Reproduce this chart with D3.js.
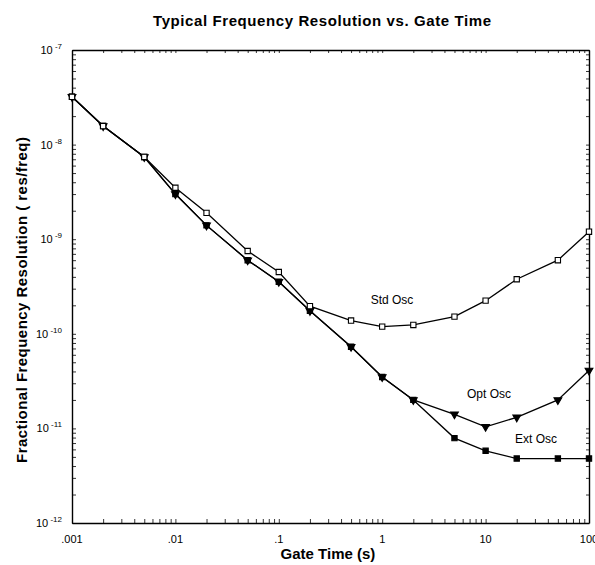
<!DOCTYPE html>
<html>
<head>
<meta charset="utf-8">
<script src="https://cdn.jsdelivr.net/npm/d3@7"></script>
<style>
  body { margin: 0; background: #fff; }
  svg { font-family: "Liberation Sans", Arial, sans-serif; }
  .frame path.domain { stroke: #000; stroke-width: 1.4; }
  .frame .tick line { stroke: #000; stroke-width: 0.8; }
</style>
</head>
<body>
<div id="chart"></div>
<script>
const width = 595, height = 565;
const margin = { top: 50, right: 6, bottom: 42, left: 72 };

// gate times (s)
const gateTimes = [0.001, 0.002, 0.005, 0.01, 0.02, 0.05, 0.1, 0.2, 0.5, 1, 2, 5, 10, 20, 50, 100];
// fractional resolution per oscillator
const stdOsc = [3.2e-8, 1.57e-8, 7.4e-9, 3.5e-9, 1.9e-9, 7.5e-10, 4.5e-10, 1.96e-10, 1.38e-10, 1.19e-10, 1.24e-10, 1.52e-10, 2.24e-10, 3.77e-10, 6.0e-10, 1.2e-9];
const optOsc = [3.2e-8, 1.57e-8, 7.4e-9, 3.0e-9, 1.4e-9, 6.0e-10, 3.55e-10, 1.75e-10, 7.3e-11, 3.5e-11, 2.0e-11, 1.41e-11, 1.04e-11, 1.31e-11, 2.0e-11, 4.1e-11];
const extOsc = [3.2e-8, 1.57e-8, 7.4e-9, 3.0e-9, 1.4e-9, 6.0e-10, 3.55e-10, 1.75e-10, 7.3e-11, 3.5e-11, 2.0e-11, 7.9e-12, 5.8e-12, 4.8e-12, 4.8e-12, 4.8e-12];

const xTickValues = [0.001, 0.01, 0.1, 1, 10, 100];
const xTickLabels = [".001", ".01", ".1", "1", "10", "100"];
const yTickValues = [1e-12, 1e-11, 1e-10, 1e-9, 1e-8, 1e-7];
const yTickExps = ["-12", "-11", "-10", "-9", "-8", "-7"];

const svg = d3.select("#chart").append("svg")
    .attr("width", width)
    .attr("height", height);

const x = d3.scaleLog()
    .domain([0.001, 100])
    .range([margin.left, width - margin.right]);
const y = d3.scaleLog()
    .domain([1e-12, 1e-7])
    .range([height - margin.bottom, margin.top]);

const x0 = x.range()[0], x1 = x.range()[1];
const y0 = y.range()[0], y1 = y.range()[1];

// minor ticks (1..9 in every decade)
const minorX = [];
for (let e = -3; e < 2; e++) for (let m = 1; m < 10; m++) minorX.push(m * Math.pow(10, e));
minorX.push(100);
const minorY = [];
for (let e = -12; e < -7; e++) for (let m = 1; m < 10; m++) minorY.push(m * Math.pow(10, e));
minorY.push(1e-7);

function frameAxis(axis, tx, ty) {
    svg.append("g")
        .attr("class", "frame")
        .attr("transform", "translate(" + tx + "," + ty + ")")
        .call(axis)
        .call(g => g.selectAll("text").remove());
}
frameAxis(d3.axisBottom(x).tickValues(minorX).tickSize(-4).tickSizeOuter(0), 0, y0);
frameAxis(d3.axisTop(x).tickValues(minorX).tickSize(-3).tickSizeOuter(0), 0, y1);
frameAxis(d3.axisLeft(y).tickValues(minorY).tickSize(-4).tickSizeOuter(0), x0, 0);
frameAxis(d3.axisRight(y).tickValues(minorY).tickSize(-3).tickSizeOuter(0), x1, 0);

// major tick labels
svg.append("g").selectAll("text")
    .data(xTickValues)
    .enter().append("text")
    .attr("x", d => x(d))
    .attr("y", y0 + 20)
    .attr("text-anchor", "middle")
    .style("font-size", "11px")
    .text((d, i) => xTickLabels[i]);

const yLab = svg.append("g").selectAll("text")
    .data(yTickValues)
    .enter().append("text")
    .attr("x", x0 - 10)
    .attr("y", d => y(d) + 4)
    .attr("text-anchor", "end")
    .style("font-size", "11px");
yLab.append("tspan").text("10");
yLab.append("tspan")
    .attr("dy", -5)
    .style("font-size", "8px")
    .text((d, i) => " " + yTickExps[i]);

// lines
const line = d3.line()
    .x((d, i) => x(gateTimes[i]))
    .y(d => y(d));

const series = [
    { name: "ext", values: extOsc, marker: "square", fill: "#000" },
    { name: "opt", values: optOsc, marker: "triangle", fill: "#000" },
    { name: "std", values: stdOsc, marker: "square", fill: "#fff" }
];

series.forEach(function(s) {
    svg.append("path")
        .datum(s.values)
        .attr("fill", "none")
        .attr("stroke", "#000")
        .attr("stroke-width", 1.3)
        .attr("d", line);

    const sym = d3.symbol()
        .type(s.marker === "square" ? d3.symbolSquare : d3.symbolTriangle)
        .size(s.marker === "square" ? 28 : 26);

    svg.append("g").selectAll("path")
        .data(s.values)
        .enter().append("path")
        .attr("transform", (d, i) => "translate(" + x(gateTimes[i]) + "," + y(d) + ")" + (s.marker === "triangle" ? " rotate(180)" : ""))
        .attr("d", sym)
        .attr("fill", s.fill)
        .attr("stroke", "#000")
        .attr("stroke-width", 1.1);
});

// series labels
const seriesLabels = [
    { text: "Std Osc", x: 392, y: 304 },
    { text: "Opt Osc", x: 489, y: 398 },
    { text: "Ext Osc", x: 536, y: 443 }
];
svg.append("g").selectAll("text")
    .data(seriesLabels)
    .enter().append("text")
    .attr("x", d => d.x)
    .attr("y", d => d.y)
    .attr("text-anchor", "middle")
    .style("font-size", "12px")
    .text(d => d.text);

// title and axis titles
svg.append("text")
    .attr("x", 322)
    .attr("y", 26)
    .attr("text-anchor", "middle")
    .style("font-size", "15px")
    .style("font-weight", "bold")
    .attr("textLength", 338)
    .text("Typical Frequency Resolution vs. Gate Time");

svg.append("text")
    .attr("x", 328)
    .attr("y", 559)
    .attr("text-anchor", "middle")
    .style("font-size", "15px")
    .style("font-weight", "bold")
    .text("Gate Time (s)");

svg.append("text")
    .attr("transform", "translate(27," + 300 + ") rotate(-90)")
    .attr("text-anchor", "middle")
    .style("font-size", "15px")
    .style("font-weight", "bold")
    .attr("textLength", 326)
    .text("Fractional Frequency Resolution ( res/freq)");
</script>
</body>
</html>
